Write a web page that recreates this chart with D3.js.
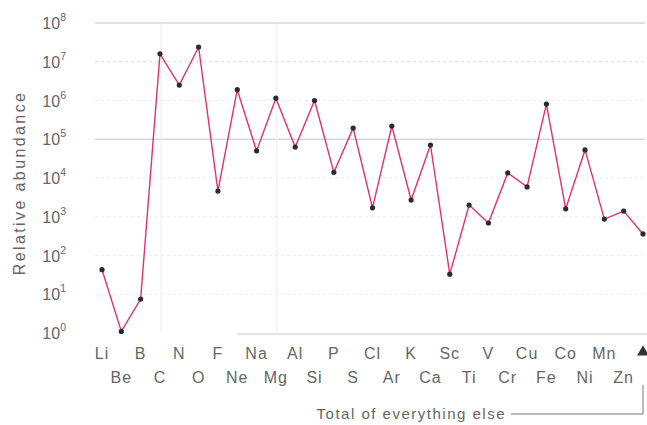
<!DOCTYPE html>
<html>
<head>
<meta charset="utf-8">
<script src="https://cdn.jsdelivr.net/npm/d3@7"></script>
<style>
  body { margin: 0; background: #fff; }
  text { font-family: "Liberation Sans", Arial, sans-serif; fill: #666; }
</style>
</head>
<body>
<svg id="chart" width="647" height="425"></svg>
<script>
// elements in the order they are plotted
const elements = ['Li', 'Be', 'B', 'C', 'N', 'O', 'F', 'Ne', 'Na', 'Mg', 'Al', 'Si', 'P', 'S', 'Cl',
  'Ar', 'K', 'Ca', 'Sc', 'Ti', 'V', 'Cr', 'Cu', 'Fe', 'Co', 'Ni', 'Mn', 'Zn', 'Total']
// relative abundance
const abundance = [43, 1.1, 7.5, 1.6e7, 2.5e6, 2.4e7, 4600, 1.9e6, 5e4, 1.15e6, 6.3e4, 1.0e6, 1.4e4, 1.95e5, 1700,
  2.2e5, 2700, 7.1e4, 33, 2000, 690, 1.35e4, 5900, 8.1e5, 1600, 5.3e4, 870, 1400, 360]
const exponents = [0, 1, 2, 3, 4, 5, 6, 7, 8]

const svg = d3.select('#chart')

let x = d3.scalePoint().domain(elements).range([102, 643])
let y = d3.scaleLog().domain([1, 1e8]).range([333, 23])

// grid
svg.selectAll('.hgrid')
  .data(exponents.filter(e => e > 0))
  .enter().append('line')
  .attr('x1', 95).attr('x2', 645)
  .attr('y1', d => y(Math.pow(10, d))).attr('y2', d => y(Math.pow(10, d)))
  .attr('stroke', d => (d === 8 || d === 5) ? '#c4c4c4' : (d === 7 ? '#dcdcdc' : '#ececec'))
  .attr('stroke-width', d => (d === 8 || d === 5) ? 1.2 : 1)
  .attr('stroke-dasharray', d => (d === 8 || d === 5) ? null : '3,3')

svg.selectAll('.vgrid')
  .data(['C', 'Mg'])
  .enter().append('line')
  .attr('x1', d => x(d) + 1).attr('x2', d => x(d) + 1)
  .attr('y1', y(1e8)).attr('y2', y(1))
  .attr('stroke', '#ececec')

// bottom axis line
svg.append('line')
  .attr('x1', x('Ne')).attr('x2', 647)
  .attr('y1', y(1) + 1).attr('y2', y(1) + 1)
  .attr('stroke', '#c8c8c8')

// y tick labels
let yt = svg.selectAll('.ytick')
  .data(exponents)
  .enter().append('text')
  .attr('x', 66)
  .attr('y', d => y(Math.pow(10, d)) + 6)
  .attr('text-anchor', 'end')
  .attr('font-size', '16px')
yt.append('tspan').text('10')
yt.append('tspan')
  .attr('dy', -8)
  .attr('font-size', '10.5px')
  .text(d => d)

svg.append('text')
  .attr('transform', 'translate(25,' + 183 + ') rotate(-90)')
  .attr('text-anchor', 'middle')
  .attr('font-size', '16px')
  .attr('letter-spacing', '2.4px')
  .text('Relative abundance')

// x labels, staggered in two rows
svg.selectAll('.xlab')
  .data(elements.slice(0, -1))
  .enter().append('text')
  .attr('x', d => x(d))
  .attr('y', (d, i) => i % 2 === 0 ? 359 : 383)
  .attr('text-anchor', 'middle')
  .attr('font-size', '16px')
  .attr('letter-spacing', '1px')
  .text(d => d)

// marker for the last point
svg.append('path')
  .attr('d', d3.symbol().type(d3.symbolTriangle).size(60))
  .attr('transform', 'translate(' + x('Total') + ',352)')
  .attr('fill', '#333')

svg.append('text')
  .attr('x', 506)
  .attr('y', 419)
  .attr('text-anchor', 'end')
  .attr('font-size', '15px')
  .attr('letter-spacing', '1.5px')
  .text('Total of everything else')

svg.append('path')
  .attr('d', 'M511,414H' + x('Total') + 'V385')
  .attr('fill', 'none')
  .attr('stroke', '#777')

// data line
let line = d3.line()
  .x((d, i) => x(elements[i]))
  .y(d => y(d))

svg.append('path')
  .datum(abundance)
  .attr('d', line)
  .attr('fill', 'none')
  .attr('stroke', '#e0336e')
  .attr('stroke-width', 1.4)

svg.selectAll('.dot')
  .data(abundance)
  .enter().append('circle')
  .attr('cx', (d, i) => x(elements[i]))
  .attr('cy', d => y(d))
  .attr('r', 2.6)
  .attr('fill', '#2b2b2b')
</script>
</body>
</html>
